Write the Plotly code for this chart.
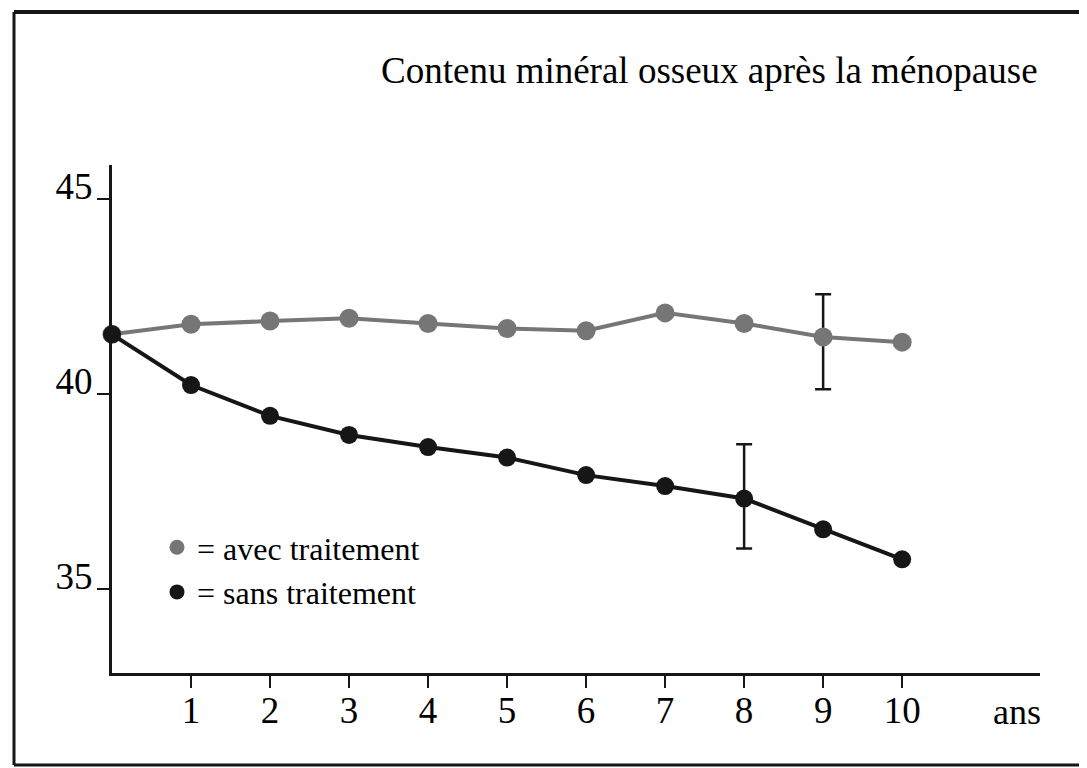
import plotly.graph_objects as go

# ---- data ----
years = [0, 1, 2, 3, 4, 5, 6, 7, 8, 9, 10]
avec_traitement = [41.53, 41.79, 41.87, 41.94, 41.81, 41.68, 41.62, 42.08, 41.81, 41.46, 41.33]
sans_traitement = [41.53, 40.23, 39.44, 38.95, 38.64, 38.37, 37.92, 37.64, 37.32, 36.53, 35.76]
avec_err_plus = [None, None, None, None, None, None, None, None, None, 1.10, None]
avec_err_minus = [None, None, None, None, None, None, None, None, None, 1.34, None]
sans_err_plus = [None, None, None, None, None, None, None, None, 1.39, None, None]
sans_err_minus = [None, None, None, None, None, None, None, None, 1.28, None, None]
x_ticks = [1, 2, 3, 4, 5, 6, 7, 8, 9, 10]
y_ticks = [35, 40, 45]
title_text = "Contenu minéral osseux après la ménopause"
legend_avec = "= avec traitement"
legend_sans = "= sans traitement"
x_unit = "ans"

GRAY = "#767676"
BLACK = "#161616"
FONT = "Liberation Serif"

OFF = 8  # default page body margin
W, H = 1087 - OFF, 768 - OFF
L = 112 - OFF
R = W - (1040 - OFF)
T = 165 - OFF
B = H - (673 - OFF)
PW, PH = W - L - R, H - T - B


def px(sx):
    return (sx - OFF - L) / PW


def py(sy):
    return (H - B - (sy - OFF)) / PH


fig = go.Figure()

fig.add_trace(go.Scatter(
    x=years, y=avec_traitement, mode="lines+markers",
    line=dict(color=GRAY, width=4),
    marker=dict(color=GRAY, size=19, line=dict(width=0)),
    error_y=dict(type="data", symmetric=False, array=avec_err_plus,
                 arrayminus=avec_err_minus, color=BLACK, thickness=2.5, width=8),
    cliponaxis=False, showlegend=False,
))
fig.add_trace(go.Scatter(
    x=years, y=sans_traitement, mode="lines+markers",
    line=dict(color=BLACK, width=4),
    marker=dict(color=BLACK, size=18, line=dict(width=0)),
    error_y=dict(type="data", symmetric=False, array=sans_err_plus,
                 arrayminus=sans_err_minus, color=BLACK, thickness=2.5, width=8),
    cliponaxis=False, showlegend=False,
))
# legend entries
fig.add_trace(go.Scatter(x=[None], y=[None], mode="markers", name=legend_avec,
                         marker=dict(color=GRAY, size=15)))
fig.add_trace(go.Scatter(x=[None], y=[None], mode="markers", name=legend_sans,
                         marker=dict(color=BLACK, size=15)))

frame_x0, frame_x1 = px(14), px(1095)
frame_y0, frame_y1 = py(765), py(12)

fig.update_layout(
    width=W, height=H,
    margin=dict(l=L, r=R, t=T, b=B, pad=0),
    paper_bgcolor="white", plot_bgcolor="white",
    font=dict(family=FONT, color="black"),
    showlegend=True,
    legend=dict(x=px(157), y=py(520), xanchor="left", yanchor="top",
                font=dict(family=FONT, size=32, color="black"),
                bgcolor="rgba(0,0,0,0)", borderwidth=0, tracegroupgap=0),
    xaxis=dict(range=[0, (1040 - 111) / 79.1], tickvals=x_ticks,
               ticktext=[str(v) for v in x_ticks],
               showline=True, linecolor=BLACK, linewidth=3,
               ticks="outside", ticklen=12, tickwidth=1.5, tickcolor=BLACK,
               showgrid=False, zeroline=False,
               tickfont=dict(family=FONT, size=37, color="black"),
               ticklabelstandoff=-9, fixedrange=True),
    yaxis=dict(range=[35 - 84 / 39, 45 + 34 / 39], tickvals=y_ticks,
               ticktext=[str(v) for v in y_ticks],
               showline=True, linecolor=BLACK, linewidth=3,
               ticks="outside", ticklen=12, tickwidth=1.5, tickcolor=BLACK,
               showgrid=False, zeroline=False,
               tickfont=dict(family=FONT, size=37, color="black"),
               ticklabelstandoff=-3, ticklabelshift=-13, fixedrange=True),
    annotations=[
        dict(text=title_text, xref="paper", yref="paper", x=1.0, y=py(70),
             xanchor="right", yanchor="middle", showarrow=False,
             font=dict(family=FONT, size=37, color="black")),
        dict(text=x_unit, xref="paper", yref="paper", x=px(1017), y=py(712),
             xanchor="center", yanchor="middle", showarrow=False,
             font=dict(family=FONT, size=36, color="black")),
    ],
    shapes=[
        dict(type="line", xref="paper", yref="paper",
             x0=frame_x0, x1=frame_x1, y0=frame_y1, y1=frame_y1,
             line=dict(color=BLACK, width=4), layer="below"),
        dict(type="line", xref="paper", yref="paper",
             x0=frame_x0, x1=frame_x0, y0=frame_y0, y1=frame_y1,
             line=dict(color=BLACK, width=3), layer="below"),
        dict(type="line", xref="paper", yref="paper",
             x0=frame_x0, x1=frame_x1, y0=frame_y0, y1=frame_y0,
             line=dict(color=BLACK, width=3), layer="below"),
    ],
)

fig.write_html("out.html")
